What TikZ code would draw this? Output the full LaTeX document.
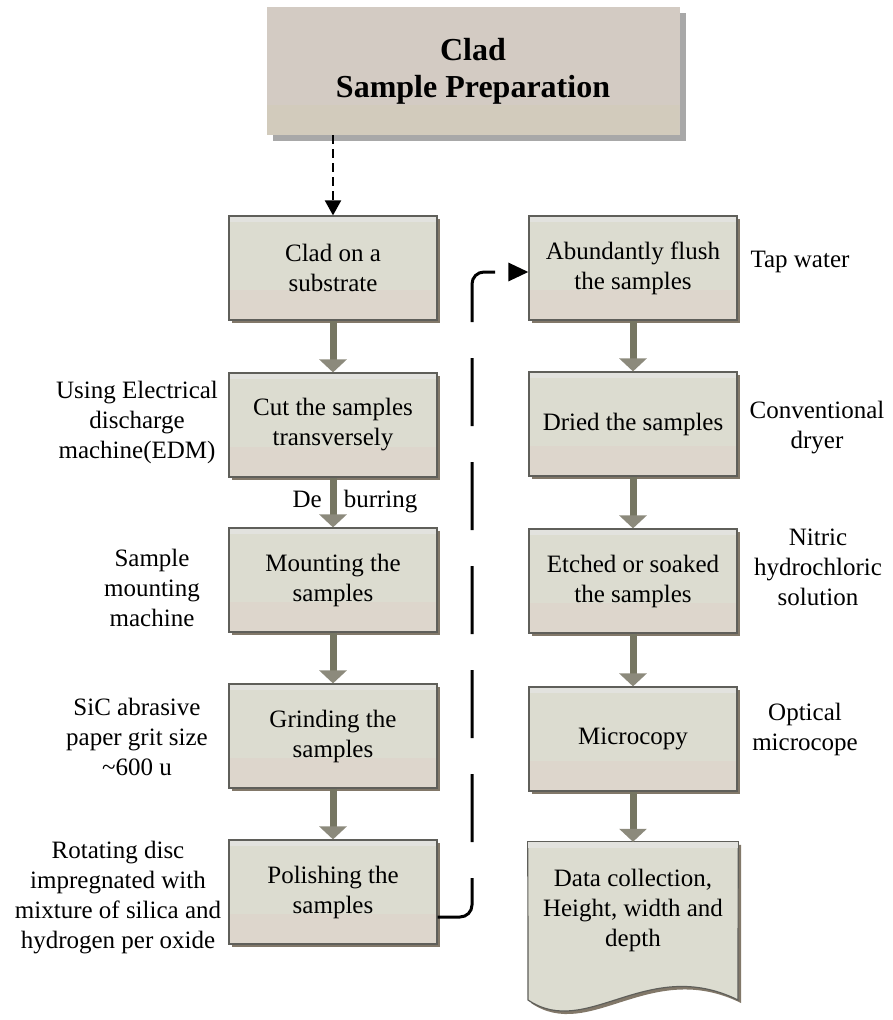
\documentclass[tikz,border=0pt]{standalone}
\usepackage{fontspec}
\setmainfont{Liberation Serif}
\usetikzlibrary{arrows.meta,shadows}

\definecolor{boxfill}{RGB}{220,220,208}
\definecolor{boxlow}{RGB}{221,214,204}
\definecolor{boxtop}{RGB}{226,226,222}
\definecolor{boxline}{RGB}{95,95,90}
\definecolor{boxshade}{RGB}{130,120,105}
\definecolor{titlefill}{RGB}{211,203,195}
\definecolor{titlelow}{RGB}{210,203,188}
\definecolor{titleshade}{RGB}{168,168,168}
\definecolor{flowshaft}{RGB}{118,118,98}
\definecolor{flowhead}{RGB}{140,138,124}

\tikzset{
  txt/.style={font=\fontsize{25}{30}\selectfont, align=center, inner sep=0pt},
  stepbox/.style={txt, rectangle, fill=boxfill, draw=boxline, line width=1.2pt,
    minimum width=208pt, minimum height=104pt,
    path picture={
      \fill[boxlow] (path picture bounding box.south west) rectangle
        ([yshift=30pt]path picture bounding box.south east);
      \fill[boxtop] (path picture bounding box.north west) rectangle
        ([yshift=-6pt]path picture bounding box.north east);},
    drop shadow={shadow xshift=3pt, shadow yshift=-3pt, fill=boxshade, opacity=1}},
  titlebox/.style={rectangle, fill=titlefill, minimum width=413pt, minimum height=128pt,
    font=\fontsize{32}{37}\selectfont\bfseries, align=center,
    path picture={
      \fill[titlelow] (path picture bounding box.south west) rectangle
        ([yshift=30pt]path picture bounding box.south east);},
    drop shadow={shadow xshift=6pt, shadow yshift=-6pt, fill=titleshade, opacity=1}},
  flow/.style={draw=flowshaft, line width=7pt,
    -{Triangle[length=13pt,width=27pt,fill=flowhead,color=flowhead]}},
  startlink/.style={black, line width=2.2pt, dash pattern=on 9pt off 5pt,
    -{Triangle[length=15pt,width=16pt]}},
  looplink/.style={black, line width=3pt, rounded corners=12pt,
    dash pattern=on 68pt off 36pt, -{Triangle[length=20pt,width=18pt]}},
}

\begin{document}
\begin{tikzpicture}[x=1pt,y=-1pt]
\useasboundingbox (0,0) rectangle (892,1020);

% heading
\node[titlebox] (title) at (473,71) {Clad\\Sample Preparation};

% left column
\node[stepbox] (clad)   at (333,268) {Clad on a\\substrate};
\node[stepbox] (cut)    at (333,425) {Cut the samples\\transversely};
\node[stepbox] (mount)  at (333,580) {Mounting the\\samples};
\node[stepbox] (grind)  at (333,736) {Grinding the\\samples};
\node[stepbox] (polish) at (333,892) {Polishing the\\samples};

% right column
\node[stepbox] (flush)  at (633,268) {Abundantly flush\\the samples};
\node[stepbox] (dry)    at (633,424) {Dried the samples};
\node[stepbox] (etch)   at (633,581) {Etched or soaked\\the samples};
\node[stepbox] (micro)  at (633,739) {Microcopy};

% document-shaped last step
\node[minimum width=210pt, minimum height=158pt, inner sep=0pt] (data) at (633,921) {};
\fill[boxshade] ([shift={(3,3)}]data.north west) -- ([shift={(3,3)}]data.north east)
  -- (741,1003) .. controls (650,958) and (590,1043) .. (531,1003) -- cycle;
\filldraw[fill=boxfill, draw=boxline, line width=1.2pt]
  (data.north west) -- (data.north east) -- (738,1000)
  .. controls (647,955) and (587,1040) .. (528,1000) -- cycle;
\fill[boxtop] ([shift={(0.6,0.6)}]data.north west) rectangle ([shift={(-0.6,6)}]data.north east);
\node[txt] (datatext) at (633,910) {Data collection,\\Height, width and\\depth};

% connectors
\draw[startlink] (title.south -| clad.north) -- (clad.north);
\draw[flow] (clad) -- (cut);
\draw[flow] (mount) -- (grind);
\draw[flow] (grind) -- (polish);
\draw[flow] (flush) -- (dry);
\draw[flow] (dry) -- (etch);
\draw[flow] (etch) -- (micro);
\draw[flow] (micro) -- (data);

\coordinate (loopdown) at (472,917);
\coordinate (loopup) at (472,272);
\draw[looplink] (polish.east |- loopdown) -- (loopdown) -- (loopup) -- (flush.west |- loopup);

% side notes
\node[txt] (deburr) at (355,502) {De\hspace{22pt}burring};
\draw[flow] (cut) -- (mount);

\node[txt] (edm)    at (137,422) {Using Electrical\\discharge\\machine(EDM)};
\node[txt] (press)  at (152,588) {Sample\\mounting\\machine};
\node[txt] (sic)    at (137,737) {SiC abrasive\\paper grit size\\\textasciitilde600 u};
\node[txt] (disc)   at (118,898) {Rotating disc\\impregnated with\\mixture of silica and\\hydrogen per oxide};

\node[txt] (water)  at (800,262) {Tap water};
\node[txt] (dryer)  at (817,428) {Conventional\\dryer};
\node[txt] (acid)   at (818,567) {Nitric\\hydrochloric\\solution};
\node[txt] (scope)  at (805,729) {Optical\\microcope};
\end{tikzpicture}
\end{document}
